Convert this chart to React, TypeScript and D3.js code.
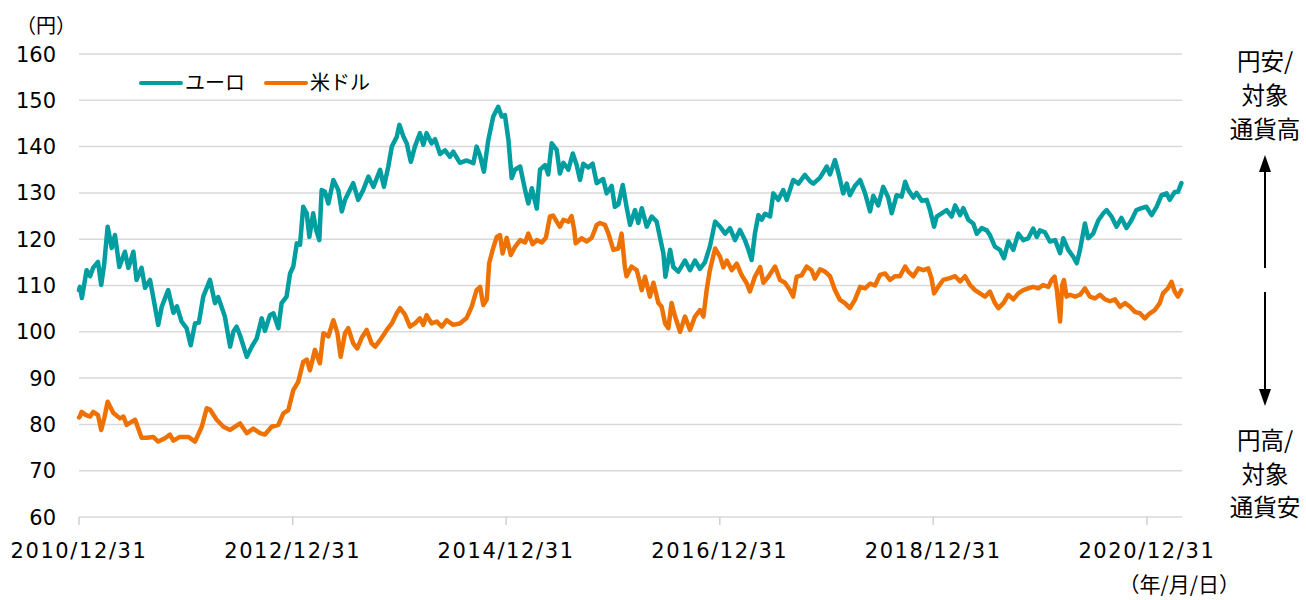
import React from "react";
import * as d3 from "d3";

type P = [string, number];

// ユーロ（円/ユーロ）
const euro2011_2012: P[] = [
  ["2010-12-31",109.0],["2011-01-03",109.7],["2011-01-10",107.3],["2011-01-26",113.3],["2011-02-07",112.0],["2011-02-17",113.8],["2011-03-06",115.1],["2011-03-17",110.1],["2011-03-27",114.5],["2011-04-08",122.7],["2011-04-22",118.1],["2011-05-03",120.9],["2011-05-18",114.0],["2011-06-06",117.3],["2011-06-18",113.8],["2011-07-05",117.3],["2011-07-16",111.2],["2011-08-02",113.8],["2011-08-14",109.5],["2011-08-31",111.2],["2011-09-17",105.4],["2011-09-28",101.5],["2011-10-10",105.4],["2011-11-01",109.0],["2011-11-19",104.1],["2011-12-01",105.5],["2011-12-17",102.2],["2012-01-03",100.8],["2012-01-17",97.1],["2012-02-01",101.8],["2012-02-14",102.0],["2012-02-29",107.6],["2012-03-23",111.2],["2012-04-09",106.2],["2012-04-20",107.5],["2012-05-13",103.3],["2012-05-31",96.8],["2012-06-11",100.0],["2012-06-22",101.1],["2012-07-04",99.2],["2012-07-27",94.6],["2012-08-13",96.8],["2012-08-30",98.6],["2012-09-16",102.9],["2012-09-27",100.2],["2012-10-14",103.6],["2012-10-26",104.0],["2012-11-12",100.8],["2012-11-23",106.2],["2012-12-10",107.6],["2012-12-22",112.6],
];
const euro2013_2014: P[] = [
  ["2013-01-02",114.1],["2013-01-14",119.1],["2013-01-25",118.8],["2013-02-05",127.0],["2013-02-17",125.6],["2013-02-26",120.5],["2013-03-11",125.6],["2013-03-21",122.0],["2013-04-01",119.8],["2013-04-09",130.6],["2013-04-20",130.3],["2013-05-02",127.7],["2013-05-19",132.8],["2013-06-05",130.6],["2013-06-17",126.0],["2013-06-28",128.5],["2013-07-09",129.9],["2013-07-26",132.1],["2013-08-12",128.5],["2013-08-29",130.6],["2013-09-16",133.5],["2013-10-03",131.3],["2013-10-26",135.0],["2013-11-08",131.3],["2013-11-23",135.7],["2013-12-05",140.0],["2013-12-22",142.1],["2013-12-31",144.7],["2014-01-13",142.3],["2014-01-25",140.7],["2014-02-08",136.7],["2014-02-22",140.0],["2014-03-11",142.9],["2014-03-23",140.4],["2014-04-03",142.9],["2014-04-20",140.7],["2014-05-02",141.6],["2014-05-19",138.4],["2014-06-05",139.2],["2014-06-22",137.8],["2014-07-03",138.9],["2014-07-26",136.5],["2014-08-18",137.0],["2014-09-10",136.4],["2014-09-21",140.0],["2014-10-03",138.0],["2014-10-16",134.6],["2014-10-31",141.4],["2014-11-17",146.5],["2014-12-04",148.6],["2014-12-16",146.5],["2014-12-27",146.8],
];
const euro2015_2016: P[] = [
  ["2015-01-08",141.4],["2015-01-19",133.2],["2015-01-30",135.0],["2015-02-17",135.7],["2015-03-06",130.6],["2015-03-17",127.7],["2015-03-29",131.0],["2015-04-15",126.6],["2015-04-26",135.0],["2015-05-13",136.0],["2015-05-24",134.0],["2015-06-05",140.7],["2015-06-22",139.3],["2015-07-03",134.2],["2015-07-15",136.5],["2015-08-01",135.0],["2015-08-16",138.5],["2015-08-29",136.1],["2015-09-10",132.8],["2015-09-21",136.3],["2015-10-08",135.5],["2015-10-23",136.3],["2015-11-06",132.1],["2015-11-28",133.0],["2015-12-10",129.9],["2015-12-27",131.5],["2016-01-07",127.0],["2016-01-19",127.5],["2016-02-03",131.7],["2016-02-16",127.0],["2016-02-28",123.1],["2016-03-16",126.3],["2016-03-27",123.5],["2016-04-08",126.7],["2016-04-25",122.7],["2016-05-12",124.9],["2016-05-29",123.8],["2016-06-09",120.5],["2016-06-21",116.9],["2016-06-28",111.9],["2016-07-14",117.7],["2016-07-25",114.0],["2016-08-11",113.0],["2016-09-03",115.4],["2016-09-20",113.3],["2016-10-07",115.4],["2016-10-24",113.6],["2016-11-10",115.0],["2016-11-27",118.4],["2016-12-15",123.8],
];
const euro2017_2018: P[] = [
  ["2017-01-01",122.7],["2017-01-18",121.2],["2017-02-04",122.4],["2017-02-21",119.8],["2017-03-10",122.0],["2017-03-27",119.8],["2017-04-08",117.7],["2017-04-19",115.5],["2017-04-30",121.2],["2017-05-12",125.2],["2017-05-23",124.2],["2017-06-04",125.5],["2017-06-21",124.9],["2017-07-02",129.9],["2017-07-19",128.5],["2017-08-05",130.6],["2017-08-17",128.5],["2017-09-08",132.8],["2017-09-26",132.0],["2017-10-18",133.9],["2017-11-05",132.5],["2017-11-16",132.0],["2017-12-09",133.3],["2018-01-01",135.7],["2018-01-12",134.0],["2018-01-29",137.1],["2018-02-09",134.5],["2018-02-26",129.9],["2018-03-10",132.0],["2018-03-21",129.5],["2018-04-07",131.5],["2018-04-25",132.8],["2018-05-12",129.9],["2018-05-29",126.0],["2018-06-09",129.4],["2018-06-26",127.3],["2018-07-13",131.3],["2018-07-30",129.0],["2018-08-11",125.6],["2018-08-28",129.5],["2018-09-14",129.2],["2018-09-26",132.4],["2018-10-07",130.6],["2018-10-24",129.0],["2018-11-04",130.0],["2018-11-22",128.3],["2018-12-09",128.5],["2018-12-20",126.3],
];
const euro2019_2021: P[] = [
  ["2019-01-03",122.7],["2019-01-12",124.9],["2019-01-29",125.6],["2019-02-15",126.3],["2019-03-04",124.9],["2019-03-16",127.3],["2019-04-02",125.2],["2019-04-13",126.7],["2019-04-30",124.2],["2019-05-17",123.4],["2019-05-29",121.2],["2019-06-15",122.4],["2019-07-02",121.9],["2019-07-13",120.9],["2019-07-30",118.4],["2019-08-16",117.7],["2019-08-30",115.9],["2019-09-14",119.5],["2019-10-01",117.7],["2019-10-18",121.2],["2019-11-04",119.8],["2019-11-21",120.2],["2019-12-08",122.3],["2019-12-20",120.5],["2019-12-31",121.9],["2020-01-17",121.5],["2020-02-03",119.5],["2020-02-21",119.8],["2020-03-09",117.0],["2020-03-20",120.2],["2020-04-06",117.7],["2020-04-23",116.2],["2020-05-05",114.8],["2020-05-16",117.7],["2020-06-02",123.4],["2020-06-13",120.2],["2020-06-30",121.2],["2020-07-18",124.1],["2020-08-04",125.6],["2020-08-15",126.3],["2020-09-01",124.9],["2020-09-18",122.7],["2020-10-05",124.6],["2020-10-22",122.4],["2020-11-08",124.1],["2020-11-25",126.3],["2020-12-12",126.7],["2020-12-29",127.0],["2021-01-16",125.2],["2021-02-02",127.0],["2021-02-19",129.5],["2021-03-08",129.9],["2021-03-19",128.5],["2021-04-05",130.2],["2021-04-16",130.2],["2021-04-28",132.1],
];

// 米ドル（円/ドル）
const usd2011_2012: P[] = [
  ["2010-12-31",81.5],["2011-01-03",81.7],["2011-01-09",82.7],["2011-01-24",82.0],["2011-02-07",81.7],["2011-02-18",82.7],["2011-03-06",82.0],["2011-03-17",78.8],["2011-03-28",81.5],["2011-04-08",84.9],["2011-04-27",82.5],["2011-05-20",81.3],["2011-06-01",81.7],["2011-06-12",79.9],["2011-06-27",80.5],["2011-07-11",81.0],["2011-08-02",77.1],["2011-08-20",77.1],["2011-09-11",77.3],["2011-09-28",76.3],["2011-10-21",77.0],["2011-11-07",77.8],["2011-11-19",76.5],["2011-12-11",77.3],["2012-01-09",77.3],["2012-02-01",76.3],["2012-02-24",79.5],["2012-03-12",83.5],["2012-03-23",83.2],["2012-04-15",81.0],["2012-05-08",79.5],["2012-05-31",78.8],["2012-06-17",79.5],["2012-07-04",80.2],["2012-07-27",78.1],["2012-08-18",79.1],["2012-09-10",78.1],["2012-09-27",77.8],["2012-10-20",79.5],["2012-11-12",79.9],["2012-11-29",82.4],["2012-12-16",83.1],
];
const usd2013_2014: P[] = [
  ["2013-01-02",87.4],["2013-01-19",89.2],["2013-02-05",93.5],["2013-02-17",94.0],["2013-02-28",91.7],["2013-03-17",96.1],["2013-04-03",93.2],["2013-04-15",99.7],["2013-05-02",99.0],["2013-05-19",102.5],["2013-06-02",99.7],["2013-06-13",94.6],["2013-06-28",99.7],["2013-07-09",100.8],["2013-07-26",97.5],["2013-08-09",96.4],["2013-08-24",98.7],["2013-09-10",100.4],["2013-09-27",97.5],["2013-10-09",96.8],["2013-10-26",98.2],["2013-11-18",100.4],["2013-12-05",101.8],["2013-12-22",104.0],["2014-01-02",105.1],["2014-01-19",103.7],["2014-02-05",101.1],["2014-02-22",101.8],["2014-03-11",102.9],["2014-03-23",101.5],["2014-04-03",103.6],["2014-04-20",101.8],["2014-05-08",102.2],["2014-05-25",101.1],["2014-06-11",102.5],["2014-07-03",101.5],["2014-07-26",101.8],["2014-08-18",103.0],["2014-09-04",105.4],["2014-09-21",109.0],["2014-10-03",109.7],["2014-10-14",105.8],["2014-10-26",107.0],["2014-11-03",114.8],["2014-11-15",117.7],["2014-11-29",120.5],["2014-12-10",120.9],["2014-12-19",116.9],
];
const usd2015_2016: P[] = [
  ["2015-01-02",120.3],["2015-01-16",116.6],["2015-01-30",118.3],["2015-02-17",119.8],["2015-03-06",119.3],["2015-03-17",121.2],["2015-04-01",118.9],["2015-04-15",119.8],["2015-05-02",119.3],["2015-05-16",120.3],["2015-05-30",124.9],["2015-06-10",125.1],["2015-06-22",123.8],["2015-07-03",122.7],["2015-07-15",124.2],["2015-08-01",123.8],["2015-08-12",125.0],["2015-08-21",122.0],["2015-08-26",119.1],["2015-09-15",120.2],["2015-10-03",119.5],["2015-10-20",120.3],["2015-11-06",123.1],["2015-11-17",123.5],["2015-12-04",123.1],["2015-12-16",121.2],["2016-01-02",117.7],["2016-01-19",118.0],["2016-01-30",121.2],["2016-02-10",114.1],["2016-02-16",112.0],["2016-03-04",114.1],["2016-03-22",113.3],["2016-04-08",109.0],["2016-04-19",111.9],["2016-05-06",107.6],["2016-05-18",110.6],["2016-06-04",106.2],["2016-06-15",105.4],["2016-06-27",101.8],["2016-07-08",100.8],["2016-07-19",106.2],["2016-07-31",103.3],["2016-08-17",100.0],["2016-09-03",103.3],["2016-09-20",100.4],["2016-10-07",103.3],["2016-10-24",104.7],["2016-11-05",103.3],["2016-11-16",109.0],["2016-11-27",113.3],["2016-12-15",118.0],
];
const usd2017_2018: P[] = [
  ["2017-01-01",116.2],["2017-01-12",113.9],["2017-01-24",115.4],["2017-02-10",113.3],["2017-02-27",114.7],["2017-03-16",112.2],["2017-04-02",110.5],["2017-04-13",108.7],["2017-04-30",111.9],["2017-05-18",114.0],["2017-05-29",110.6],["2017-06-15",111.9],["2017-07-08",114.1],["2017-07-25",111.2],["2017-08-11",110.6],["2017-08-28",109.0],["2017-09-08",107.6],["2017-09-20",111.9],["2017-10-07",112.2],["2017-10-24",114.1],["2017-11-10",113.3],["2017-11-21",111.5],["2017-12-09",113.5],["2017-12-26",113.0],["2018-01-12",112.0],["2018-01-29",109.0],["2018-02-15",106.9],["2018-03-04",106.2],["2018-03-21",105.1],["2018-04-07",106.9],["2018-04-25",109.7],["2018-05-12",109.4],["2018-05-29",110.4],["2018-06-15",110.0],["2018-07-02",112.3],["2018-07-19",112.6],["2018-08-05",111.2],["2018-08-22",112.0],["2018-09-08",112.0],["2018-09-26",114.1],["2018-10-07",113.0],["2018-10-24",112.0],["2018-11-10",113.7],["2018-11-27",113.3],["2018-12-14",113.7],["2018-12-25",111.6],
];
const usd2019_2021: P[] = [
  ["2019-01-03",108.3],["2019-01-17",109.7],["2019-02-03",111.2],["2019-02-26",111.6],["2019-03-16",112.0],["2019-04-02",110.9],["2019-04-19",112.0],["2019-05-06",110.1],["2019-05-23",109.0],["2019-06-09",108.3],["2019-06-26",107.6],["2019-07-13",108.7],["2019-07-30",106.2],["2019-08-11",105.1],["2019-08-28",106.2],["2019-09-14",108.0],["2019-10-01",107.0],["2019-10-18",108.3],["2019-11-04",109.0],["2019-11-21",109.4],["2019-12-08",109.7],["2019-12-25",109.4],["2020-01-11",110.1],["2020-01-29",109.7],["2020-02-09",111.2],["2020-02-19",111.9],["2020-02-27",109.0],["2020-03-09",102.2],["2020-03-16",110.0],["2020-03-22",111.2],["2020-03-31",107.6],["2020-04-12",108.0],["2020-04-29",107.6],["2020-05-16",108.0],["2020-06-02",109.4],["2020-06-19",107.6],["2020-07-06",107.2],["2020-07-23",108.0],["2020-08-10",107.0],["2020-08-27",106.6],["2020-09-13",107.0],["2020-09-30",105.4],["2020-10-17",106.2],["2020-11-03",105.4],["2020-11-20",104.3],["2020-12-07",104.0],["2020-12-24",102.9],["2021-01-10",104.0],["2021-01-27",104.7],["2021-02-13",106.2],["2021-02-24",108.3],["2021-03-13",109.4],["2021-03-25",110.8],["2021-04-05",108.7],["2021-04-16",107.6],["2021-04-28",109.0],
];

const yTicks = [60, 70, 80, 90, 100, 110, 120, 130, 140, 150, 160];
const xTickLabels = ["2010/12/31", "2012/12/31", "2014/12/31", "2016/12/31", "2018/12/31", "2020/12/31"];
const seriesNames = ["ユーロ", "米ドル"];
const seriesColors = ["#009EA0", "#EE7203"];
const noteTop = ["円安/", "対象", "通貨高"];
const noteBottom = ["円高/", "対象", "通貨安"];

const FONT = "Verdana, 'DejaVu Sans', 'Noto Sans CJK JP', sans-serif";
const JFONT = "'Noto Sans CJK JP', sans-serif";

export default function App() {
  const W = 1306, H = 600;
  const parse = d3.timeParse("%Y-%m-%d");
  const x = d3.scaleTime()
    .domain([parse("2010-12-31") as Date, parse("2021-04-30") as Date])
    .range([79, 1182]);
  const y = d3.scaleLinear().domain([60, 160]).range([517, 54]);

  const euro = [...euro2011_2012, ...euro2013_2014, ...euro2015_2016, ...euro2017_2018, ...euro2019_2021];
  const usd = [...usd2011_2012, ...usd2013_2014, ...usd2015_2016, ...usd2017_2018, ...usd2019_2021];

  const line = d3.line<P>()
    .x((d) => x(parse(d[0]) as Date))
    .y((d) => y(d[1]));

  const xTicks = xTickLabels.map((l) => parse(l.replace(/\//g, "-")) as Date);
  const [x0, x1] = x.range();

  return (
    <svg width={W} height={H} style={{ position: "absolute", left: 0, top: 0, background: "#fff" }}>
      {/* grid */}
      {yTicks.map((t) => (
        <line key={t} x1={x0} x2={x1} y1={y(t)} y2={y(t)} stroke="#d9d9d9" strokeWidth={1.5} />
      ))}
      {/* x axis ticks */}
      {xTicks.map((d, i) => (
        <line key={i} x1={x(d)} x2={x(d)} y1={y(60)} y2={y(60) + 8} stroke="#d0d0d0" strokeWidth={1.5} />
      ))}
      {/* y labels */}
      {yTicks.map((t) => (
        <text key={t} x={56} y={y(t)} dy="0.36em" textAnchor="end" fontFamily={FONT} fontSize={21} fill="#000">
          {t}
        </text>
      ))}
      <text x={16} y={33} fontFamily={JFONT} fontSize={20} fill="#000">（円）</text>
      {/* x labels */}
      {xTicks.map((d, i) => (
        <text key={i} x={x(d)} y={558} textAnchor="middle" fontFamily={FONT} fontSize={21} letterSpacing={1.6} fill="#000">
          {xTickLabels[i]}
        </text>
      ))}
      <text x={1240} y={592} textAnchor="end" fontFamily={JFONT} fontSize={21} fill="#000">（年/月/日）</text>

      {/* lines */}
      <path d={line(euro) || ""} fill="none" stroke={seriesColors[0]} strokeWidth={4.5} strokeLinejoin="round" strokeLinecap="round" />
      <path d={line(usd) || ""} fill="none" stroke={seriesColors[1]} strokeWidth={4.5} strokeLinejoin="round" strokeLinecap="round" />

      {/* legend */}
      {seriesNames.map((n, i) => {
        const lx = i === 0 ? 141 : 266;
        return (
          <g key={n}>
            <line x1={lx} x2={lx + 40} y1={83} y2={83} stroke={seriesColors[i]} strokeWidth={4} strokeLinecap="round" />
            <text x={lx + 44} y={83} dy="0.36em" fontFamily={JFONT} fontSize={20} fill="#000">{n}</text>
          </g>
        );
      })}

      {/* right annotation */}
      {noteTop.map((t, i) => (
        <text key={"t" + i} x={1265} y={62 + i * 34} dy="0.36em" textAnchor="middle" fontFamily={JFONT} fontSize={23.5} fill="#000">{t}</text>
      ))}
      {noteBottom.map((t, i) => (
        <text key={"b" + i} x={1265} y={441 + i * 33.5} dy="0.36em" textAnchor="middle" fontFamily={JFONT} fontSize={23.5} fill="#000">{t}</text>
      ))}
      <line x1={1265} x2={1265} y1={170} y2={268} stroke="#000" strokeWidth={2} />
      <path d="M1265,155 L1259,172 L1271,172 Z" fill="#000" />
      <line x1={1265} x2={1265} y1={292} y2={390} stroke="#000" strokeWidth={2} />
      <path d="M1265,406 L1259,389 L1271,389 Z" fill="#000" />
    </svg>
  );
}
